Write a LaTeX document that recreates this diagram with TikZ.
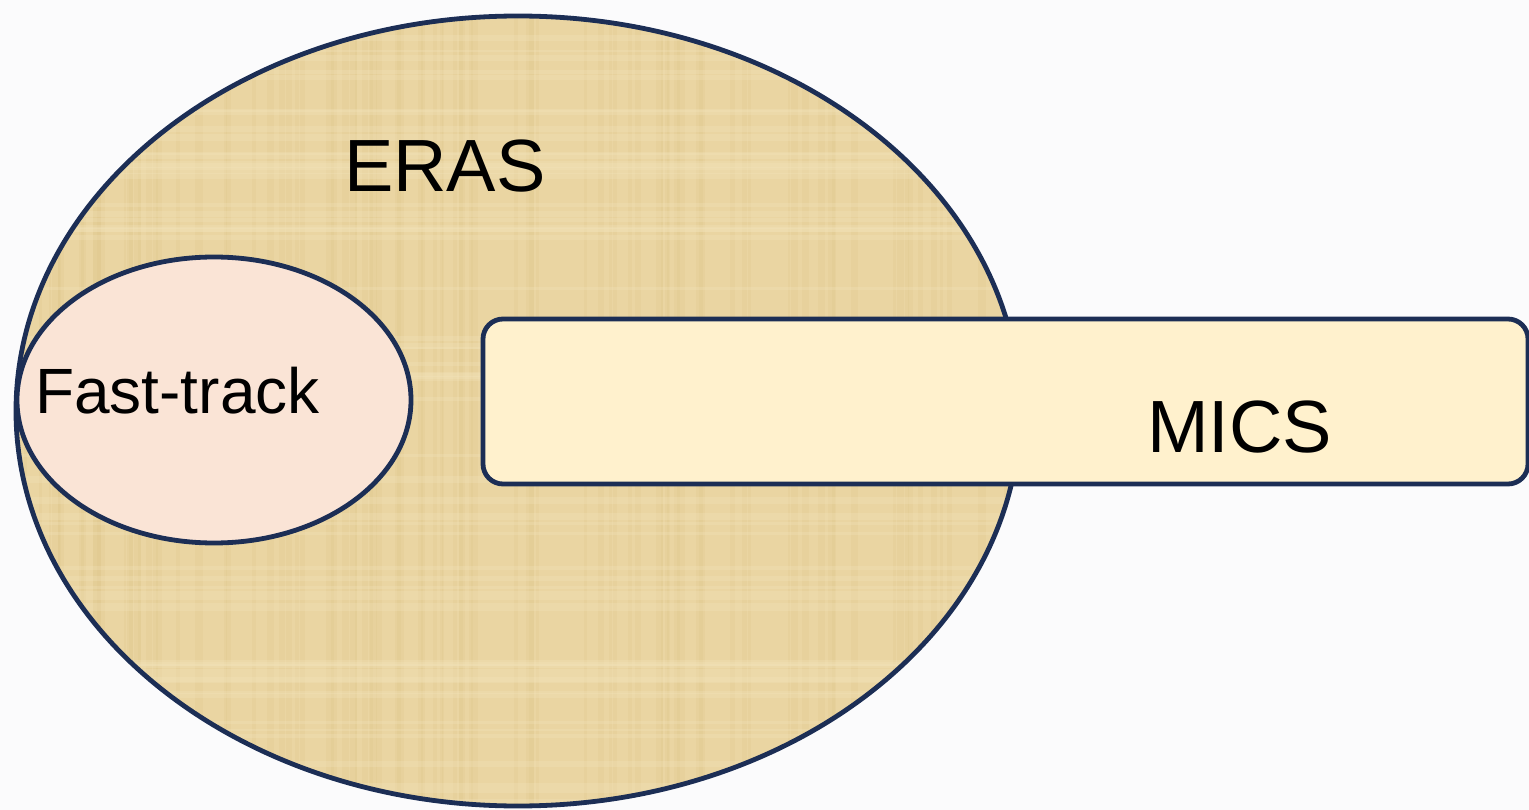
\documentclass[tikz,border=0pt]{standalone}
\usepackage{fontspec}
\setmainfont{Liberation Sans}
\usetikzlibrary{shapes.geometric}
\definecolor{edge}{HTML}{1C2E55}
\definecolor{papyrus}{HTML}{EAD5A2}
\definecolor{papyrusdark}{HTML}{D9BE7E}
\definecolor{papyruslight}{HTML}{F5E6C0}
\definecolor{fastfill}{HTML}{FAE4D6}
\definecolor{micsfill}{HTML}{FFF1CD}
\definecolor{bg}{HTML}{FBFBFC}
\tikzset{
  outline/.style={draw=edge, line width=4.8pt},
  label/.style={inner sep=0pt, anchor=base west, text=black},
}
\begin{document}
\begin{tikzpicture}[x=1pt,y=-1pt]
\fill[bg] (0,0) rectangle (1529,810);
\useasboundingbox (0,0) rectangle (1529,810);
% ERAS ellipse
\node[ellipse, fill=papyrus, minimum width=1004pt, minimum height=790pt, inner sep=0pt, outer sep=0pt] (eras) at (518,411) {};
\begin{scope}
  \clip (518,411) ellipse [x radius=502pt, y radius=395pt];
  \pgfmathsetseed{7}
  \foreach \i in {1,...,90}{
    \pgfmathsetmacro{\xx}{20+rnd*1000}
    \pgfmathsetmacro{\ww}{2+rnd*6}
    \fill[papyrusdark, opacity=0.15] (\xx,0) rectangle ++(\ww,810);
  }
  \foreach \i in {1,...,60}{
    \pgfmathsetmacro{\yy}{10+rnd*800}
    \pgfmathsetmacro{\hh}{2+rnd*5}
    \fill[papyruslight, opacity=0.25] (0,\yy) rectangle ++(1030,\hh);
  }
\end{scope}
\draw[outline] (518,411) ellipse [x radius=502pt, y radius=395pt];
% Fast-track ellipse
\node[ellipse, outline, fill=fastfill, minimum width=394pt, minimum height=286pt, inner sep=0pt, outer sep=0pt] (fast) at (214,400) {};
% MICS rectangle
\node[rectangle, rounded corners=20pt, outline, fill=micsfill, minimum width=1045pt, minimum height=165pt, inner sep=0pt, outer sep=0pt] (mics) at (1005.5,401.5) {};
% labels
\node[label, font=\fontsize{74}{82}\selectfont] (erastext) at (344,192) {ERAS};
\node[label, font=\fontsize{64}{72}\selectfont] (fasttext) at (35,413) {Fast-track};
\node[label, font=\fontsize{74}{82}\selectfont] (micstext) at (1147,452) {MICS};
\end{tikzpicture}
\end{document}
